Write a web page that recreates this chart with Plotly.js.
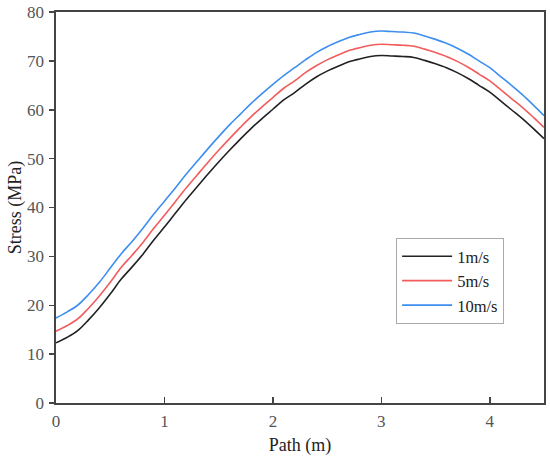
<!DOCTYPE html>
<html>
<head>
<meta charset="utf-8">
<script src="https://cdn.plot.ly/plotly-3.0.1.min.js"></script>
<style>html,body{margin:0;padding:0;background:#fff;}#chart{width:550px;height:460px;}</style>
</head>
<body>
<div id="chart"></div>
<script>
var pathX = [0,0.1,0.2,0.3,0.4,0.5,0.6,0.7,0.8,0.9,1.0,1.1,1.2,1.3,1.4,1.5,1.6,1.7,1.8,1.9,2.0,2.1,2.2,2.3,2.4,2.5,2.6,2.7,2.8,2.9,3.0,3.1,3.2,3.3,3.4,3.5,3.6,3.7,3.8,3.9,4.0,4.1,4.2,4.3,4.4,4.5];
var stress1 = [12.3,13.4,14.8,17.0,19.5,22.3,25.3,27.8,30.4,33.3,36.0,38.8,41.6,44.2,46.8,49.3,51.7,54.0,56.2,58.2,60.1,62.0,63.5,65.2,66.7,67.9,68.9,69.8,70.4,70.9,71.1,71.0,70.9,70.7,70.1,69.4,68.6,67.6,66.4,65.0,63.6,61.8,60.0,58.2,56.2,54.1];
var stress5 = [14.7,15.8,17.2,19.4,21.9,24.7,27.7,30.2,32.8,35.7,38.4,41.2,44.0,46.6,49.2,51.7,54.1,56.4,58.6,60.6,62.5,64.4,65.9,67.6,69.0,70.2,71.2,72.1,72.7,73.2,73.4,73.3,73.2,73.0,72.4,71.7,70.9,69.9,68.7,67.3,65.9,64.1,62.3,60.5,58.5,56.4];
var stress10 = [17.4,18.6,20.0,22.2,24.7,27.6,30.5,33.0,35.7,38.6,41.3,44.0,46.8,49.4,52.0,54.5,56.9,59.1,61.3,63.3,65.2,67.0,68.6,70.2,71.7,72.9,73.9,74.8,75.4,75.9,76.1,76.0,75.9,75.7,75.1,74.4,73.6,72.6,71.4,70.0,68.6,66.8,65.0,63.1,61.0,58.8];
var seriesNames = ['1m/s','5m/s','10m/s'];
var xTicks = [0,1,2,3,4];
var yTicks = [0,10,20,30,40,50,60,70,80];

var serif = 'Liberation Serif';
var colors = ['#222222','#f25c5c','#3d8ef0'];
var ys = [stress1, stress5, stress10];
var traces = ys.map(function(y,i){
  return {x: pathX, y: y, type:'scatter', mode:'lines', name: seriesNames[i],
    line:{color: colors[i], width:1.6, shape:'spline', smoothing:1}};
});

var layout = {
  width:550, height:460,
  margin:{l:56, r:6, t:12, b:57},
  paper_bgcolor:'#fff', plot_bgcolor:'#fff',
  font:{family: serif, color:'#333', size:14},
  xaxis:{range:[0,4.5], tickvals:xTicks, ticktext:xTicks.map(String),
    ticks:'inside', ticklen:6, tickwidth:1.5, tickcolor:'#444',
    showline:true, linecolor:'#444', linewidth:1.6, mirror:true,
    showgrid:false, zeroline:false, ticklabelstandoff:2,
    tickfont:{family:serif, size:17, color:'#555'},
    title:{text:'Path (m)', font:{family:serif, size:18, color:'#222'}, standoff:8}},
  yaxis:{range:[0,80], tickvals:yTicks, ticktext:yTicks.map(String),
    ticks:'outside', ticklen:5, tickwidth:1.5, tickcolor:'#444',
    showline:true, linecolor:'#444', linewidth:1.6, mirror:true,
    showgrid:false, zeroline:false, ticklabelstandoff:2,
    tickfont:{family:serif, size:17, color:'#555'},
    title:{text:'Stress (MPa)', font:{family:serif, size:18, color:'#222'}, standoff:1}},
  showlegend:true,
  legend:{x:0.697, y:0.422, xanchor:'left', yanchor:'top',
    bgcolor:'#fff', bordercolor:'#aaa', borderwidth:1,
    font:{family:serif, size:16.5, color:'#222'}, itemwidth:50, tracegroupgap:0}
};

Plotly.newPlot('chart', traces, layout, {displayModeBar:false, staticPlot:true});
</script>
</body>
</html>
